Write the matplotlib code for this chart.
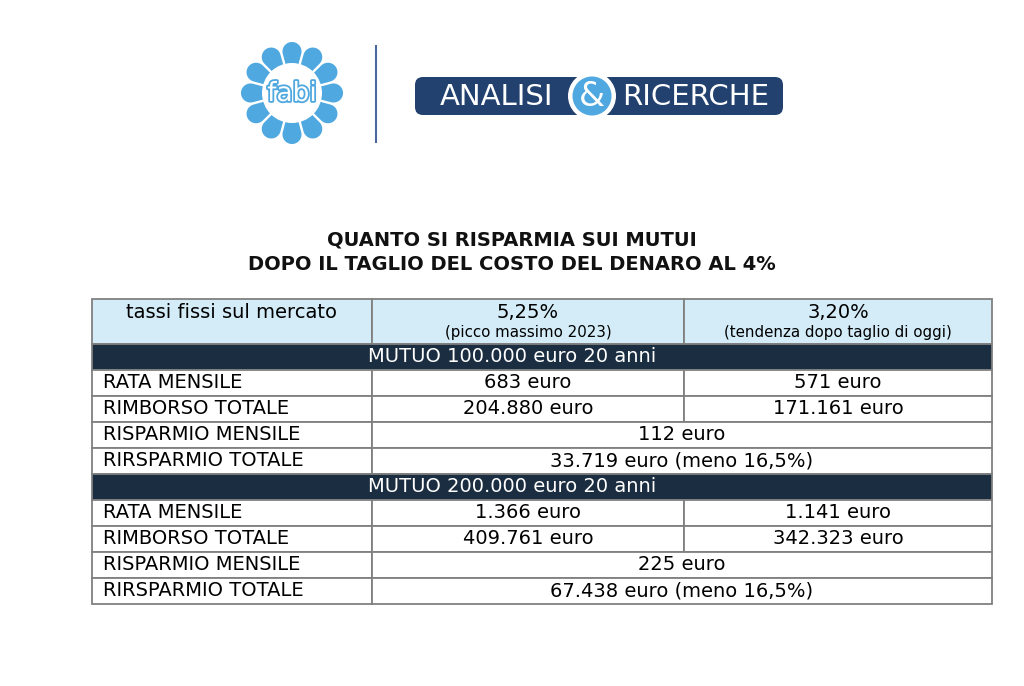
"""
FABI - risparmio sui mutui dopo il taglio dei tassi.
Tabella ricostruita con matplotlib, salvata in out.png.
"""
import numpy as np
import matplotlib.pyplot as plt
from matplotlib.patches import Rectangle, Polygon, Circle, FancyBboxPatch
import matplotlib.patheffects as pe

TITLE_LINES = ["QUANTO SI RISPARMIA SUI MUTUI",
               "DOPO IL TAGLIO DEL COSTO DEL DENARO AL 4%"]

COL_HEADERS = ["tassi fissi sul mercato", "5,25%", "3,20%"]
COL_NOTES   = ["", "(picco massimo 2023)", "(tendenza dopo taglio di oggi)"]

SECTIONS   = ["MUTUO 100.000 euro 20 anni", "MUTUO 200.000 euro 20 anni"]
ROW_LABELS = ["RATA MENSILE", "RIMBORSO TOTALE",
              "RISPARMIO MENSILE", "RIRSPARMIO TOTALE"]

# per sezione: [rata mensile, rimborso totale]
VALUES_HIGH = [["683 euro", "204.880 euro"], ["1.366 euro", "409.761 euro"]]
VALUES_LOW  = [["571 euro", "171.161 euro"], ["1.141 euro", "342.323 euro"]]
# per sezione: [risparmio mensile, risparmio totale]
SAVINGS     = [["112 euro", "33.719 euro (meno 16,5%)"],
               ["225 euro", "67.438 euro (meno 16,5%)"]]

FONT = "DejaVu Sans"
LIGHT_BLUE = "#4fa8df"
NAVY = "#22416e"
DARK_ROW = "#1b2d40"
HEADER_BG = "#d3ecf8"
GRID = "#808080"
FS = 14          # testo tabella
FS_NOTE = 10.8   # note intestazione

# geometria in pixel
X_EDGES = [92, 372, 684, 992]
HEADER_TOP, HEADER_H, ROW_H = 299, 45, 26


def cell(ax, x0, x1, y0, h, face="white"):
    ax.add_patch(Rectangle((x0, y0), x1 - x0, h, facecolor=face,
                           edgecolor=GRID, linewidth=1.3))


def petal(cx, cy, a, rc=41.5, rr=10.5):
    # spicchio con punta tonda: tangenti dal centro a un cerchio
    phi = np.arcsin(rr / rc)
    t = np.linspace(-(np.pi / 2 + phi), np.pi / 2 + phi, 40)
    u = np.concatenate([[0], rc + rr * np.cos(t), [0]])
    v = np.concatenate([[0], rr * np.sin(t), [0]])
    x = cx + u * np.cos(a) - v * np.sin(a)
    y = cy - (u * np.sin(a) + v * np.cos(a))
    return np.column_stack([x, y])


def draw_logo(ax):
    cx, cy = 292, 93
    n = 12
    for k in range(n):
        a = 2 * np.pi * k / n + np.pi / 2
        ax.add_patch(Polygon(petal(cx, cy, a), closed=True,
                             facecolor=LIGHT_BLUE, edgecolor="white", lw=1.4))
    ax.add_patch(Circle((cx, cy), 30, facecolor="white", edgecolor="none"))
    ax.text(cx, cy + 1, "fabi", color="white", fontsize=19, family=FONT,
            ha="center", va="center",
            path_effects=[pe.withStroke(linewidth=2.6, foreground=LIGHT_BLUE)])

    ax.plot([376, 376], [46, 142], color="#4a68a0", lw=1.5)

    ax.add_patch(FancyBboxPatch((415, 77), 368, 38,
                                boxstyle="round,pad=0,rounding_size=8",
                                facecolor=NAVY, edgecolor="none"))
    ax.add_patch(Circle((592, 96), 24, facecolor="white", edgecolor="none"))
    ax.add_patch(Circle((592, 96), 19.5, facecolor=LIGHT_BLUE, edgecolor="none"))
    ax.text(592, 97, "&", color="white", fontsize=24, family=FONT,
            ha="center", va="center")
    ax.text(497, 97, "ANALISI", color="white", fontsize=21, family=FONT,
            ha="center", va="center")
    ax.text(696, 97, "RICERCHE", color="white", fontsize=21, family=FONT,
            ha="center", va="center")


fig = plt.figure(figsize=(10.24, 6.86), dpi=100)
ax = fig.add_axes([0, 0, 1, 1])
ax.set_xlim(0, 1024)
ax.set_ylim(686, 0)
ax.axis("off")

draw_logo(ax)

for i, line in enumerate(TITLE_LINES):
    ax.text(512, 240 + 24 * i, line, fontsize=14, fontweight="bold",
            family=FONT, ha="center", va="center", color="#111111")

# intestazione
for c in range(3):
    cell(ax, X_EDGES[c], X_EDGES[c + 1], HEADER_TOP, HEADER_H, HEADER_BG)
    xm = (X_EDGES[c] + X_EDGES[c + 1]) / 2
    ax.text(xm, HEADER_TOP + 14, COL_HEADERS[c], fontsize=FS, family=FONT,
            ha="center", va="center")
    if COL_NOTES[c]:
        ax.text(xm, HEADER_TOP + 34, COL_NOTES[c], fontsize=FS_NOTE,
                family=FONT, ha="center", va="center")

y = HEADER_TOP + HEADER_H
x_mid12 = (X_EDGES[1] + X_EDGES[3]) / 2
for s, section in enumerate(SECTIONS):
    cell(ax, X_EDGES[0], X_EDGES[3], y, ROW_H, DARK_ROW)
    ax.text(512, y + ROW_H / 2, section, color="white", fontsize=FS,
            family=FONT, ha="center", va="center")
    y += ROW_H
    for r, label in enumerate(ROW_LABELS):
        cell(ax, X_EDGES[0], X_EDGES[1], y, ROW_H)
        ax.text(X_EDGES[0] + 11, y + ROW_H / 2, label, fontsize=FS,
                family=FONT, ha="left", va="center")
        if r < 2:
            for c, vals in ((1, VALUES_HIGH), (2, VALUES_LOW)):
                cell(ax, X_EDGES[c], X_EDGES[c + 1], y, ROW_H)
                ax.text((X_EDGES[c] + X_EDGES[c + 1]) / 2, y + ROW_H / 2,
                        vals[s][r], fontsize=FS, family=FONT,
                        ha="center", va="center")
        else:
            cell(ax, X_EDGES[1], X_EDGES[3], y, ROW_H)
            ax.text(x_mid12, y + ROW_H / 2, SAVINGS[s][r - 2], fontsize=FS,
                    family=FONT, ha="center", va="center")
        y += ROW_H

fig.savefig("out.png", dpi=100, facecolor="white")
plt.close(fig)
